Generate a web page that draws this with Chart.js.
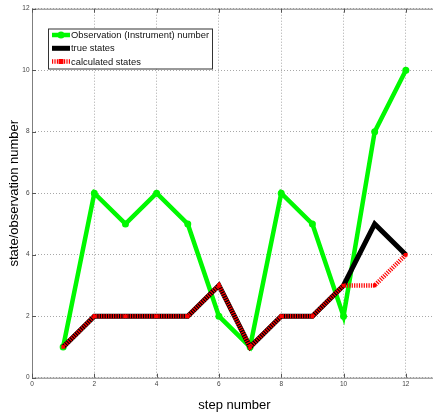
<!DOCTYPE html>
<html>
<head>
<meta charset="utf-8">
<script src="https://cdn.jsdelivr.net/npm/chart.js@4.4.1/dist/chart.umd.min.js"></script>
<style>
  html, body { margin: 0; padding: 0; background: #fff; overflow: hidden; width: 433px; height: 413px; }
  #wrap { position: relative; width: 441px; height: 413px; }
  canvas { display: block; }
</style>
</head>
<body>
<div id="wrap"><canvas id="c" width="441" height="413"></canvas></div>
<script>
// Step indices and the three series plotted against them
const steps = [1, 2, 3, 4, 5, 6, 7, 8, 9, 10, 11, 12];
const observations = [1, 6, 5, 6, 5, 2, 1, 6, 5, 2, 8, 10];
const trueStates = [1, 2, 2, 2, 2, 3, 1, 2, 2, 3, 5, 4];
const calculatedStates = [1, 2, 2, 2, 2, 3, 1, 2, 2, 3, 3, 4];

// Tick positions on each axis
const xTicks = [0, 2, 4, 6, 8, 10, 12];
const yTicks = [0, 2, 4, 6, 8, 10, 12];

const seriesLabels = ['Observation (Instrument) number', 'true states', 'calculated states'];
const xTitle = 'step number';
const yTitle = 'state/observation number';

const FONT = '"Liberation Sans", Arial, Helvetica, sans-serif';
const GREEN = '#00f800';
const RED = '#ff0000';

const pts = (ys) => steps.map((s, i) => ({ x: s, y: ys[i] }));

// Axes box plus short inward tick marks on the bottom, top and left sides
const framePlugin = {
  id: 'frame',
  beforeDatasetsDraw(chart) {
    const { ctx, chartArea: a, scales: { x, y } } = chart;
    ctx.save();
    ctx.strokeStyle = '#7f7f7f';
    ctx.lineWidth = 1;
    ctx.beginPath();
    ctx.moveTo(a.right, a.top + 0.5);
    ctx.lineTo(a.left + 0.5, a.top + 0.5);
    ctx.lineTo(a.left + 0.5, a.bottom + 0.5);
    ctx.lineTo(a.right, a.bottom + 0.5);
    ctx.stroke();
    ctx.strokeStyle = '#555';
    ctx.beginPath();
    xTicks.forEach(v => {
      const px = Math.round(x.getPixelForValue(v)) + 0.5;
      ctx.moveTo(px, a.bottom); ctx.lineTo(px, a.bottom - 4);
      ctx.moveTo(px, a.top); ctx.lineTo(px, a.top + 4);
    });
    yTicks.forEach(v => {
      const py = Math.round(y.getPixelForValue(v)) + 0.5;
      ctx.moveTo(a.left, py); ctx.lineTo(a.left + 4, py);
    });
    ctx.stroke();
    ctx.restore();
  }
};

// Boxed legend placed inside the upper-left of the plot
const boxLegend = {
  id: 'boxLegend',
  afterDatasetsDraw(chart) {
    const { ctx } = chart;
    const bx = 48, by = 28.5, bw = 164, bh = 40;
    ctx.save();
    ctx.fillStyle = '#fff';
    ctx.fillRect(bx, by, bw, bh);
    ctx.strokeStyle = '#333';
    ctx.lineWidth = 1;
    ctx.strokeRect(bx + 0.5, by + 0.5, bw, bh);
    const rows = [35, 48.3, 61.5];
    chart.data.datasets.forEach((ds, i) => {
      const yy = rows[i];
      const x0 = 52, x1 = 70;
      ctx.save();
      ctx.strokeStyle = ds.borderColor;
      ctx.lineWidth = ds.borderWidth;
      ctx.setLineDash(ds.borderDash || []);
      ctx.beginPath();
      ctx.moveTo(x0, yy); ctx.lineTo(x1, yy);
      ctx.stroke();
      ctx.setLineDash([]);
      if (ds.pointRadius > 0) {
        ctx.fillStyle = ds.pointBackgroundColor;
        const r = ds.pointRadius;
        const mx = (x0 + x1) / 2;
        if (ds.pointStyle === 'rect') {
          ctx.fillRect(mx - r, yy - r, 2 * r, 2 * r);
        } else {
          ctx.beginPath();
          ctx.arc(mx, yy, r, 0, Math.PI * 2);
          ctx.fill();
        }
      }
      ctx.restore();
      ctx.fillStyle = '#111';
      ctx.font = '9.4px ' + FONT;
      ctx.textBaseline = 'middle';
      ctx.textAlign = 'left';
      ctx.fillText(ds.label, 71, yy + 0.5);
    });
    ctx.restore();
  }
};

new Chart(document.getElementById('c'), {
  type: 'line',
  data: {
    datasets: [
      {
        label: seriesLabels[0],
        data: pts(observations),
        borderColor: GREEN,
        backgroundColor: GREEN,
        borderWidth: 4.5,
        pointRadius: 3.5,
        pointStyle: 'circle',
        pointBackgroundColor: GREEN,
        pointBorderColor: GREEN,
        pointBorderWidth: 0,
        order: 3
      },
      {
        label: seriesLabels[1],
        data: pts(trueStates),
        borderColor: '#000',
        backgroundColor: '#000',
        borderWidth: 5,
        pointRadius: 0,
        order: 2
      },
      {
        label: seriesLabels[2],
        data: pts(calculatedStates),
        borderColor: RED,
        backgroundColor: RED,
        borderWidth: 4.5,
        borderDash: [1.2, 1.2],
        borderCapStyle: 'butt',
        pointRadius: 2.5,
        pointStyle: 'rect',
        pointBackgroundColor: RED,
        pointBorderColor: RED,
        pointBorderWidth: 0,
        order: 1
      }
    ]
  },
  options: {
    responsive: false,
    animation: false,
    events: [],
    layout: { padding: { top: 8.7, right: 1.5, left: 0, bottom: 0 } },
    elements: { line: { tension: 0 } },
    plugins: { legend: { display: false }, tooltip: { enabled: false } },
    scales: {
      x: {
        type: 'linear',
        min: 0,
        max: 13,
        afterBuildTicks(s) { s.ticks = xTicks.map(v => ({ value: v })); },
        afterFit(s) { s.height = 35.3; },
        border: { display: false, dash: [1, 2] },
        grid: { color: '#a8a8a8', lineWidth: 1, drawTicks: false },
        ticks: { padding: 2.5, color: '#444', font: { family: FONT, size: 6.5 }, maxRotation: 0 },
        title: { display: true, text: xTitle, color: '#000', font: { family: FONT, size: 13 }, padding: { top: 0, bottom: 0 } }
      },
      y: {
        type: 'linear',
        min: 0,
        max: 12,
        afterBuildTicks(s) { s.ticks = yTicks.map(v => ({ value: v })); },
        afterFit(s) { s.width = 32; },
        border: { display: false, dash: [1, 2] },
        grid: { color: '#a8a8a8', lineWidth: 1, drawTicks: false },
        ticks: { padding: 2.5, color: '#444', font: { family: FONT, size: 6.5 } },
        title: { display: true, text: yTitle, color: '#000', font: { family: FONT, size: 13 }, padding: { top: 6.7, bottom: 0 } }
      }
    }
  },
  plugins: [framePlugin, boxLegend]
});
</script>
</body>
</html>
